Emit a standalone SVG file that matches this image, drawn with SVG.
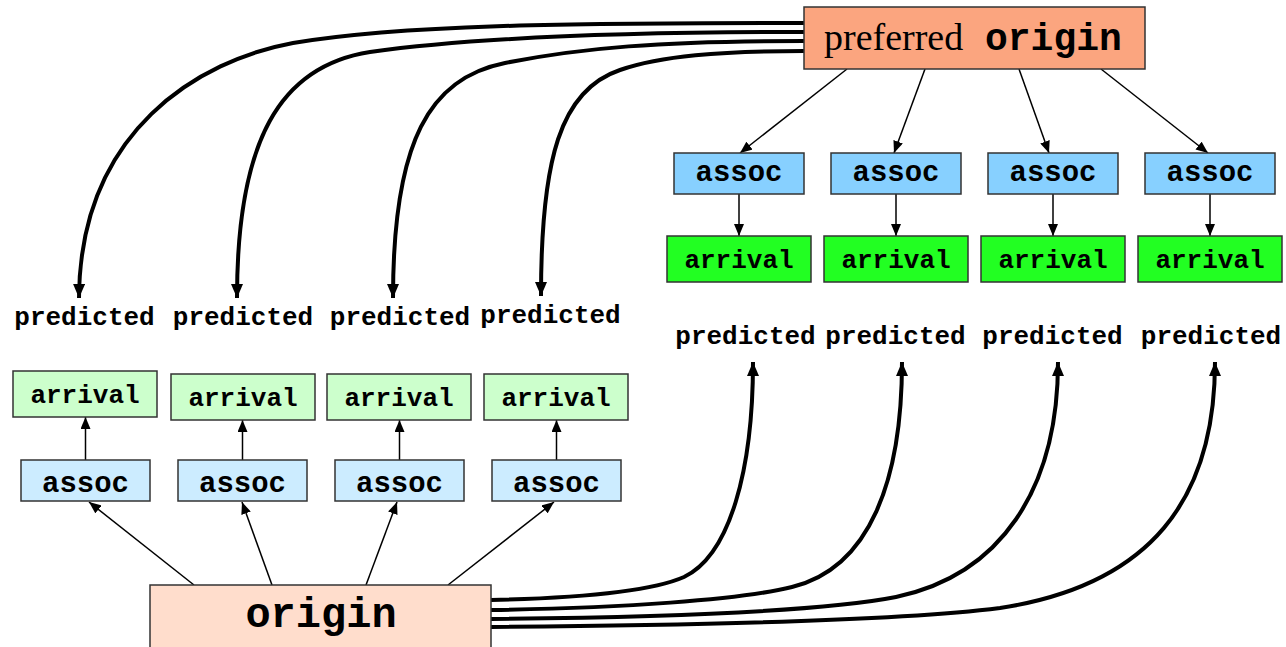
<svg xmlns="http://www.w3.org/2000/svg" width="1286" height="647" viewBox="0 0 1286 647">
<style>
.box{stroke:#333;stroke-width:1.5}
.po{fill:#FBA57F}
.ao{fill:#FFDDCC}
.a1{fill:#87D0FF}
.r1{fill:#22FF22}
.a2{fill:#CCECFF}
.r2{fill:#CCFFCC}
.mono{font-family:"Liberation Mono","Courier New",monospace;font-weight:bold;fill:#000}
.serif{font-family:"Liberation Serif","Times New Roman",serif;fill:#000}
.thin{fill:none;stroke:#000;stroke-width:1.5;marker-end:url(#ah)}
.thick{fill:none;stroke:#000;stroke-width:4;marker-end:url(#AH)}
</style>
<defs>
<marker id="ah" markerUnits="userSpaceOnUse" viewBox="0 0 12 10" refX="12" refY="5" markerWidth="12" markerHeight="10" orient="auto"><path d="M0,0 L12,5 L0,10 z" fill="#000"/></marker>
<marker id="AH" markerUnits="userSpaceOnUse" viewBox="0 0 14 12" refX="14" refY="6" markerWidth="14" markerHeight="12" orient="auto"><path d="M0,0 L14,6 L0,12 z" fill="#000"/></marker>
</defs>
<rect width="1286" height="647" fill="#fff"/>
<g id="connectors">
<path class="thick" d="M804,23 C560,23 400,25 293,43 C200,60 80,130 79,298"/>
<path class="thick" d="M804,32 C620,32 470,38 370,52 C280,66 237,140 237,298"/>
<path class="thick" d="M804,41 C660,41 580,48 505,63 C430,78 393,140 393,298"/>
<path class="thick" d="M804,51 C720,51 660,56 620,70 C560,90 541,160 541,296"/>
<path class="thick" d="M491,600 C580,598 650,592 684,577 C730,555 753,470 753,362"/>
<path class="thick" d="M491,610 C620,608 740,600 792,587 C870,568 902,480 902,362"/>
<path class="thick" d="M491,619 C680,617 830,610 896,597 C1000,575 1058,490 1058,362"/>
<path class="thick" d="M491,627 C750,625 920,618 1000,608 C1150,585 1215,500 1215,362"/>
<line class="thin" x1="847" y1="69" x2="740" y2="153"/>
<line class="thin" x1="925" y1="69" x2="894" y2="153"/>
<line class="thin" x1="1019" y1="69" x2="1049" y2="153"/>
<line class="thin" x1="1101" y1="69" x2="1208" y2="153"/>
<line class="thin" x1="739" y1="194" x2="739" y2="236"/>
<line class="thin" x1="896" y1="194" x2="896" y2="236"/>
<line class="thin" x1="1053" y1="194" x2="1053" y2="236"/>
<line class="thin" x1="1210" y1="194" x2="1210" y2="236"/>
<line class="thin" x1="194" y1="585" x2="89" y2="502"/>
<line class="thin" x1="272" y1="585" x2="242" y2="502"/>
<line class="thin" x1="366" y1="585" x2="397" y2="502"/>
<line class="thin" x1="448" y1="585" x2="554" y2="502"/>
<line class="thin" x1="85.5" y1="460" x2="85.5" y2="417"/>
<line class="thin" x1="242.5" y1="460" x2="242.5" y2="420"/>
<line class="thin" x1="399.5" y1="460" x2="399.5" y2="420"/>
<line class="thin" x1="556.5" y1="460" x2="556.5" y2="420"/>
</g>
<g id="preferred_origin"><rect class="box po" x="804" y="7" width="341" height="62"/><text class="serif" x="824" y="50" font-size="38">preferred</text><text class="mono" x="985" y="50" font-size="38">origin</text></g>
<g id="origin"><rect class="box ao" x="150" y="585" width="341" height="70"/><text class="mono" x="321" y="627" font-size="42" text-anchor="middle">origin</text></g>
<g id="assoc_t1"><rect class="box a1" x="674" y="153" width="130" height="41"/><text class="mono" x="739" y="181" font-size="29" text-anchor="middle">assoc</text></g>
<g id="assoc_t2"><rect class="box a1" x="831" y="153" width="130" height="41"/><text class="mono" x="896" y="181" font-size="29" text-anchor="middle">assoc</text></g>
<g id="assoc_t3"><rect class="box a1" x="988" y="153" width="130" height="41"/><text class="mono" x="1053" y="181" font-size="29" text-anchor="middle">assoc</text></g>
<g id="assoc_t4"><rect class="box a1" x="1145" y="153" width="130" height="41"/><text class="mono" x="1210" y="181" font-size="29" text-anchor="middle">assoc</text></g>
<g id="arrival_t1"><rect class="box r1" x="667" y="236" width="144" height="46"/><text class="mono" x="739" y="268" font-size="26" text-anchor="middle">arrival</text></g>
<g id="arrival_t2"><rect class="box r1" x="824" y="236" width="144" height="46"/><text class="mono" x="896" y="268" font-size="26" text-anchor="middle">arrival</text></g>
<g id="arrival_t3"><rect class="box r1" x="981" y="236" width="144" height="46"/><text class="mono" x="1053" y="268" font-size="26" text-anchor="middle">arrival</text></g>
<g id="arrival_t4"><rect class="box r1" x="1138" y="236" width="144" height="46"/><text class="mono" x="1210" y="268" font-size="26" text-anchor="middle">arrival</text></g>
<g id="assoc_b1"><rect class="box a2" x="21" y="460" width="129" height="41"/><text class="mono" x="85.5" y="492" font-size="29" text-anchor="middle">assoc</text></g>
<g id="assoc_b2"><rect class="box a2" x="178" y="460" width="129" height="41"/><text class="mono" x="242.5" y="492" font-size="29" text-anchor="middle">assoc</text></g>
<g id="assoc_b3"><rect class="box a2" x="335" y="460" width="129" height="41"/><text class="mono" x="399.5" y="492" font-size="29" text-anchor="middle">assoc</text></g>
<g id="assoc_b4"><rect class="box a2" x="492" y="460" width="129" height="41"/><text class="mono" x="556.5" y="492" font-size="29" text-anchor="middle">assoc</text></g>
<g id="arrival_b1"><rect class="box r2" x="13" y="371" width="144" height="46"/><text class="mono" x="85" y="403" font-size="26" text-anchor="middle">arrival</text></g>
<g id="arrival_b2"><rect class="box r2" x="171" y="374" width="144" height="46"/><text class="mono" x="243" y="406" font-size="26" text-anchor="middle">arrival</text></g>
<g id="arrival_b3"><rect class="box r2" x="327" y="374" width="144" height="46"/><text class="mono" x="399" y="406" font-size="26" text-anchor="middle">arrival</text></g>
<g id="arrival_b4"><rect class="box r2" x="484" y="374" width="144" height="46"/><text class="mono" x="556" y="406" font-size="26" text-anchor="middle">arrival</text></g>
<g id="predicted_l1"><text class="mono" x="84.5" y="325" font-size="26" text-anchor="middle">predicted</text></g>
<g id="predicted_l2"><text class="mono" x="243" y="325" font-size="26" text-anchor="middle">predicted</text></g>
<g id="predicted_l3"><text class="mono" x="400" y="325" font-size="26" text-anchor="middle">predicted</text></g>
<g id="predicted_l4"><text class="mono" x="550.5" y="323" font-size="26" text-anchor="middle">predicted</text></g>
<g id="predicted_r1"><text class="mono" x="745.5" y="344" font-size="26" text-anchor="middle">predicted</text></g>
<g id="predicted_r2"><text class="mono" x="895.5" y="344" font-size="26" text-anchor="middle">predicted</text></g>
<g id="predicted_r3"><text class="mono" x="1052.5" y="344" font-size="26" text-anchor="middle">predicted</text></g>
<g id="predicted_r4"><text class="mono" x="1211" y="344" font-size="26" text-anchor="middle">predicted</text></g>
</svg>
